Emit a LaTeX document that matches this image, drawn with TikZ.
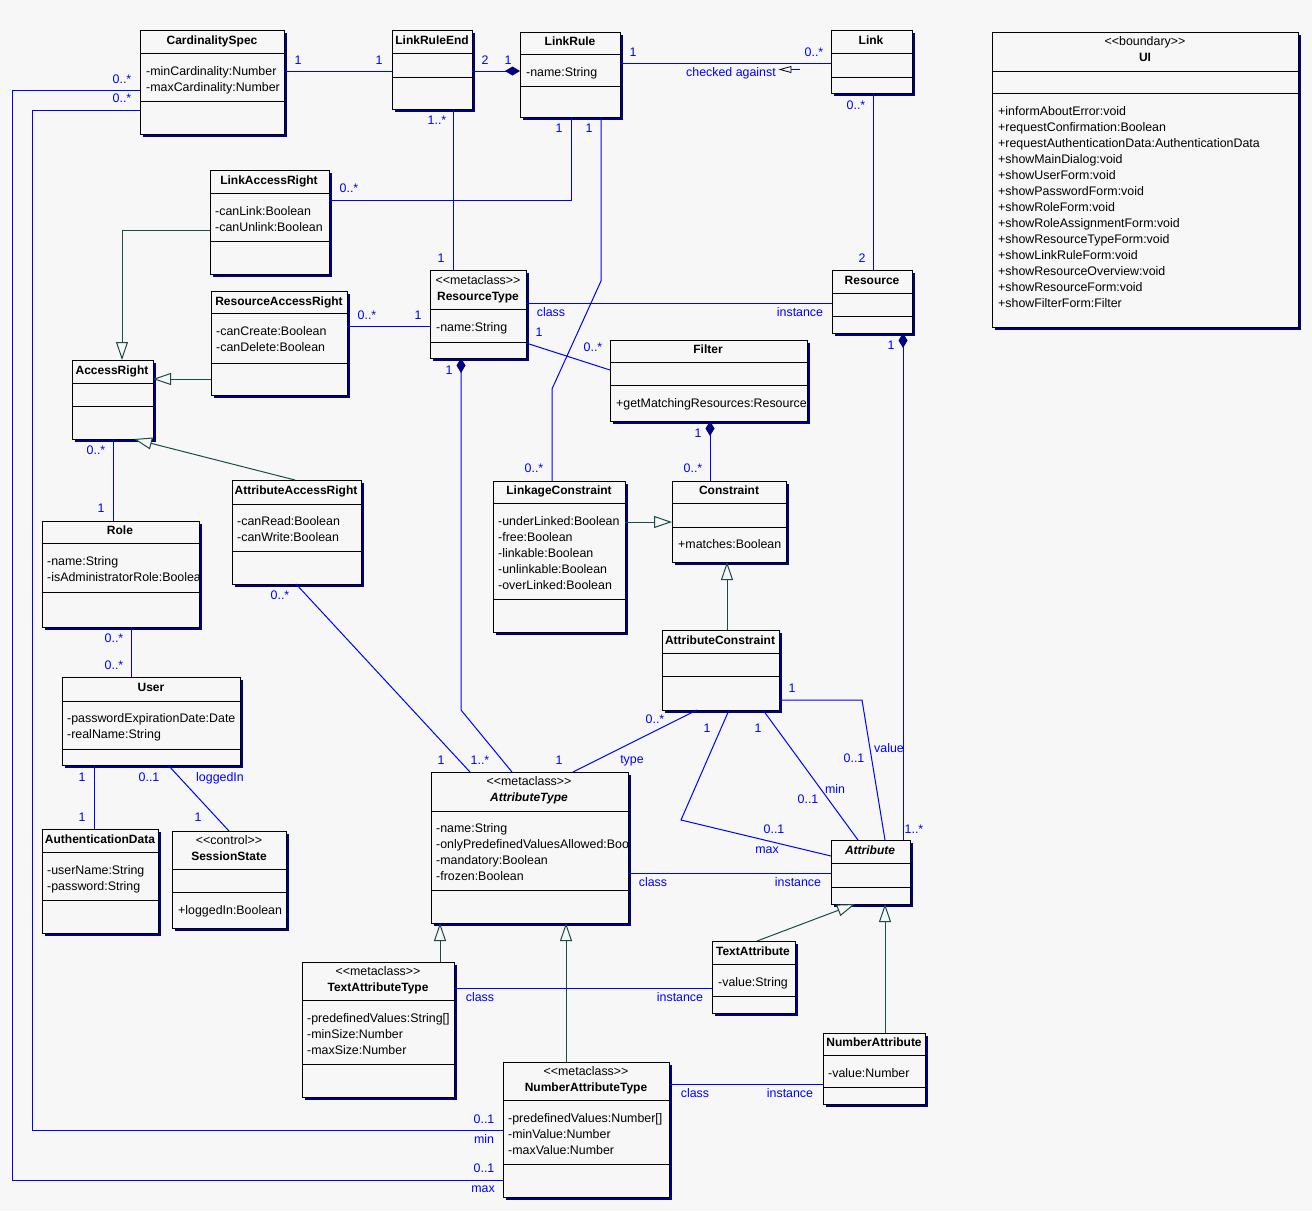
\documentclass[tikz,border=0pt]{standalone}
\usepackage{fontspec}
\setmainfont{Liberation Sans}
\usetikzlibrary{arrows.meta}
\definecolor{bgc}{HTML}{F7F7F7}
\definecolor{shc}{HTML}{000080}
\definecolor{bluec}{HTML}{0000FF}
\definecolor{genc}{HTML}{1A4A4A}
\definecolor{dmc}{HTML}{000080}
\newcommand\fsz{\fontsize{12}{14}\selectfont}
\newcommand\fszr{\fontsize{12.4}{14}\selectfont}
\newcommand\stt[1]{<\kern0pt<#1>\kern0pt>}
\newcounter{tnum}
\newcommand\cbox[7]{%
  \fill[shc] (#2+3,#3+3) rectangle (#4+3,#5+3);
  \node[clsbox, minimum width=#4-#2, minimum height=#5-#3, anchor=north west] (#1) at (#2,#3) {};
  \draw[black, line width=1pt] (#2,#6) -- (#4,#6) (#2,#7) -- (#4,#7);}
\newcommand\mkTitle[3]{\stepcounter{tnum}\node[ttl] (t\arabic{tnum}) at (#1,#2+4.3) {#3};}
\newcommand\mkItal[3]{\stepcounter{tnum}\node[itl] (t\arabic{tnum}) at (#1,#2+4.3) {#3};}
\newcommand\mkSt[3]{\stepcounter{tnum}\node[ster] (t\arabic{tnum}) at (#1,#2+4.3) {\stt{#3}};}
\newcommand\mkAt[3]{\stepcounter{tnum}\node[atr] (t\arabic{tnum}) at (#1,#2+4.3) {#3};}
\newcommand\mkLb[3]{\stepcounter{tnum}\node[lbl] (t\arabic{tnum}) at (#1,#2+4.3) {#3};}
\begin{document}
\begin{tikzpicture}[x=1pt,y=-1pt,
  clsbox/.style={draw=black, line width=1pt, fill=bgc, inner sep=0pt, outer sep=0pt},
  ttl/.style={font=\fsz\bfseries, anchor=base, inner sep=0pt},
  itl/.style={font=\fsz\bfseries\itshape, anchor=base, inner sep=0pt},
  ster/.style={font=\fszr, anchor=base, inner sep=0pt},
  atr/.style={font=\fszr, anchor=base west, inner sep=0pt},
  lbl/.style={font=\fszr, text=bluec, anchor=base, inner sep=0pt},
  assoc/.style={draw=bluec, line width=1pt},
  gen/.style={draw=genc, line width=1pt, -{Triangle[open, fill=bgc, length=18pt, width=12pt]}},
  compo/.style={{Diamond[length=15pt, width=9pt, fill=dmc, color=dmc]}-}
]
\fill[bgc] (0,0) rectangle (1312,1211);
\useasboundingbox (0,0) rectangle (1312,1211);

% ---------------- classes ----------------
\cbox{cs}{140}{30}{284}{134}{53}{101}
\mkTitle{212}{40}{CardinalitySpec}
\mkAt{146}{71}{-minCardinality:Number}
\mkAt{146}{87}{-maxCardinality:Number}

\cbox{lre}{392}{30}{472}{109}{53}{77}
\mkTitle{432}{40}{LinkRuleEnd}

\cbox{lr}{520}{32}{620}{117}{54}{86}
\mkTitle{570}{41}{LinkRule}
\mkAt{526}{72}{-name:String}

\cbox{lk}{831}{30}{912}{93}{53}{77}
\mkTitle{871}{40}{Link}

\cbox{ui}{992}{32}{1298}{327}{71}{93}
\mkSt{1145}{41}{boundary}
\mkTitle{1145}{57}{UI}
\foreach \s [count=\i from 0] in {+informAboutError:void,+requestConfirmation:Boolean,+requestAuthenticationData:AuthenticationData,+showMainDialog:void,+showUserForm:void,+showPasswordForm:void,+showRoleForm:void,+showRoleAssignmentForm:void,+showResourceTypeForm:void,+showLinkRuleForm:void,+showResourceOverview:void,+showResourceForm:void,+showFilterForm:Filter}
  {\node[atr] (uiop\i) at (998,111+16*\i+4.3) {\s};}

\cbox{lar}{210}{170}{329}{274}{193}{241}
\mkTitle{269}{180}{LinkAccessRight}
\mkAt{215}{211}{-canLink:Boolean}
\mkAt{215}{227}{-canUnlink:Boolean}

\cbox{rar}{211}{291}{347}{395}{313}{363}
\mkTitle{279}{301}{ResourceAccessRight}
\mkAt{216}{331}{-canCreate:Boolean}
\mkAt{216}{347}{-canDelete:Boolean}

\cbox{ar}{72}{360}{153}{439}{383}{406}
\mkTitle{112}{370}{AccessRight}

\cbox{role}{42}{521}{199}{627}{543}{592}
\mkTitle{120}{530}{Role}
\begin{scope}
\clip (42,521) rectangle (199,627);
\mkAt{47}{561}{-name:String}
\mkAt{47}{577}{-isAdministratorRole:Boolea}
\end{scope}

\cbox{aar}{232}{480}{361}{584}{504}{551}
\mkTitle{296}{490}{AttributeAccessRight}
\mkAt{237}{521}{-canRead:Boolean}
\mkAt{237}{537}{-canWrite:Boolean}

\cbox{usr}{62}{677}{240}{765}{701}{749}
\mkTitle{151}{687}{User}
\mkAt{67}{718}{-passwordExpirationDate:Date}
\mkAt{67}{734}{-realName:String}

\cbox{ad}{42}{829}{158}{933}{852}{900}
\mkTitle{100}{839}{AuthenticationData}
\mkAt{47}{870}{-userName:String}
\mkAt{47}{886}{-password:String}

\cbox{ss}{172}{831}{286}{928}{869}{892}
\mkSt{229}{840}{control}
\mkTitle{229}{856}{SessionState}
\mkAt{178}{910}{+loggedIn:Boolean}

\cbox{rt}{430}{270}{526}{358}{309}{342}
\mkSt{478}{280}{metaclass}
\mkTitle{478}{296}{ResourceType}
\mkAt{436}{327}{-name:String}

\cbox{res}{832}{270}{912}{333}{293}{316}
\mkTitle{872}{280}{Resource}

\cbox{flt}{610}{340}{807}{421}{362}{385}
\mkTitle{708}{349}{Filter}
\begin{scope}
\clip (610,340) rectangle (807,421);
\mkAt{616}{403}{+getMatchingResources:Resource}
\end{scope}

\cbox{lc}{493}{481}{625}{632}{503}{599}
\mkTitle{559}{490}{LinkageConstraint}
\mkAt{498}{521}{-underLinked:Boolean}
\mkAt{498}{537}{-free:Boolean}
\mkAt{498}{553}{-linkable:Boolean}
\mkAt{498}{569}{-unlinkable:Boolean}
\mkAt{498}{585}{-overLinked:Boolean}

\cbox{con}{672}{481}{786}{562}{503}{527}
\mkTitle{729}{490}{Constraint}
\mkAt{678}{544}{+matches:Boolean}

\cbox{ac}{662}{630}{779}{710}{653}{676}
\mkTitle{720}{640}{AttributeConstraint}

\cbox{att}{831}{840}{910}{904}{863}{887}
\mkItal{870}{850}{Attribute}

\cbox{at}{431}{772}{628}{923}{811}{890}
\mkSt{529}{781}{metaclass}
\mkItal{529}{797}{AttributeType}
\begin{scope}
\clip (431,772) rectangle (628,923);
\mkAt{436}{828}{-name:String}
\mkAt{436}{844}{-onlyPredefinedValuesAllowed:Boo}
\mkAt{436}{860}{-mandatory:Boolean}
\mkAt{436}{876}{-frozen:Boolean}
\end{scope}

\cbox{tat}{302}{962}{454}{1097}{1000}{1064}
\mkSt{378}{971}{metaclass}
\mkTitle{378}{987}{TextAttributeType}
\mkAt{307}{1018}{-predefinedValues:String[]}
\mkAt{307}{1034}{-minSize:Number}
\mkAt{307}{1050}{-maxSize:Number}

\cbox{nat}{503}{1062}{669}{1197}{1100}{1164}
\mkSt{586}{1071}{metaclass}
\mkTitle{586}{1087}{NumberAttributeType}
\mkAt{508}{1118}{-predefinedValues:Number[]}
\mkAt{508}{1134}{-minValue:Number}
\mkAt{508}{1150}{-maxValue:Number}

\cbox{ta}{712}{941}{795}{1013}{964}{996}
\mkTitle{753}{951}{TextAttribute}
\mkAt{718}{982}{-value:String}

\cbox{na}{823}{1033}{925}{1104}{1055}{1087}
\mkTitle{874}{1042}{NumberAttribute}
\mkAt{828}{1073}{-value:Number}

% ---------------- connectors ----------------
\draw[assoc] (cs.east |- 0,71) -- (lre.west |- 0,71);
\draw[assoc, -{Diamond[length=15pt, width=9pt, fill=dmc, color=dmc]}] (lre.east |- 0,71) -- (lr.west |- 0,71);
\draw[assoc] (lr.east |- 0,63) -- (lk.west |- 0,63);
\draw[bluec, line width=1pt] (791,69.5) -- (800,69.5);
\draw[black, line width=0.8pt, fill=bgc] (791,66.5) -- (780,69.5) -- (791,72.5) -- cycle;
\draw[assoc] (873,0 |- lk.south) -- (873,0 |- res.north);
\draw[assoc] (453,0 |- lre.south) -- (453,0 |- rt.north);
\draw[assoc] (571,0 |- lr.south) -- (571,200) -- (lar.east |- 0,200);
\draw[assoc] (601,0 |- lr.south) -- (601,281) -- (552,389) -- (552,0 |- lc.north);
\draw[assoc] (rt.east |- 0,303) -- (res.west |- 0,303);
\draw[assoc] (rar.east |- 0,326) -- (rt.west |- 0,326);
\draw[assoc] (rt.east |- 0,343) -- (flt.west |- 0,370);
\draw[assoc, compo] (461,0 |- rt.south) -- (461,710) -- (512,0 |- at.north);
\draw[assoc] (296,0 |- aar.south) -- (470,0 |- at.north);
\draw[assoc] (573,0 |- at.north) -- (697,0 |- ac.south);
\draw[assoc] (729,0 |- ac.south) -- (681,820) -- (att.west |- 0,856);
\draw[assoc] (763,0 |- ac.south) -- (858,0 |- att.north);
\draw[assoc] (ac.east |- 0,700) -- (862,700) -- (885,0 |- att.north);
\draw[assoc, compo] (903,0 |- res.south) -- (903,0 |- att.north);
\draw[assoc, compo] (710,0 |- flt.south) -- (710,0 |- con.north);
\draw[gen] (lc.east |- 0,522) -- (con.west |- 0,522);
\draw[gen] (727,0 |- ac.north) -- (727,0 |- con.south);
\draw[assoc] (at.east |- 0,873) -- (att.west |- 0,873);
\draw[gen] (440,0 |- tat.north) -- (440,0 |- at.south);
\draw[gen] (566,0 |- nat.north) -- (566,0 |- at.south);
\draw[assoc] (tat.east |- 0,988) -- (ta.west |- 0,988);
\draw[assoc] (nat.east |- 0,1084) -- (na.west |- 0,1084);
\draw[gen] (757,0 |- ta.north) -- (855,0 |- att.south);
\draw[gen] (885,0 |- na.north) -- (885,0 |- att.south);
\draw[gen] (lar.west |- 0,230) -- (122,230) -- (122,0 |- ar.north);
\draw[gen] (rar.west |- 0,379) -- (ar.east |- 0,379);
\draw[gen] (295,0 |- aar.north) -- (134,0 |- ar.south);
\draw[assoc] (113,0 |- ar.south) -- (113,0 |- role.north);
\draw[assoc] (131,0 |- role.south) -- (131,0 |- usr.north);
\draw[assoc] (94,0 |- usr.south) -- (94,0 |- ad.north);
\draw[assoc] (168,0 |- usr.south) -- (229,0 |- ss.north);
\draw[assoc] (cs.west |- 0,90) -- (12,90) -- (12,1180) -- (nat.west |- 0,1180);
\draw[assoc] (cs.west |- 0,110) -- (32,110) -- (32,1130) -- (nat.west |- 0,1130);

% ---------------- labels ----------------
\mkLb{298}{60}{1}
\mkLb{379}{60}{1}
\mkLb{485}{60}{2}
\mkLb{508}{60}{1}
\mkLb{633}{52}{1}
\mkLb{814}{52}{0..*}
\mkLb{731}{72}{checked against}
\mkLb{856}{105}{0..*}
\mkLb{862}{258}{2}
\mkLb{437}{120}{1..*}
\mkLb{559}{128}{1}
\mkLb{589}{128}{1}
\mkLb{349}{188}{0..*}
\mkLb{441}{258}{1}
\mkLb{551}{312}{class}
\mkLb{800}{312}{instance}
\mkLb{367}{315}{0..*}
\mkLb{418}{315}{1}
\mkLb{539}{332}{1}
\mkLb{593}{347}{0..*}
\mkLb{449}{370}{1}
\mkLb{891}{345}{1}
\mkLb{698}{433}{1}
\mkLb{693}{468}{0..*}
\mkLb{534}{468}{0..*}
\mkLb{792}{688}{1}
\mkLb{655}{719}{0..*}
\mkLb{707}{728}{1}
\mkLb{758}{728}{1}
\mkLb{889}{748}{value}
\mkLb{854}{758}{0..1}
\mkLb{632}{759}{type}
\mkLb{835}{789}{min}
\mkLb{808}{799}{0..1}
\mkLb{914}{829}{1..*}
\mkLb{774}{829}{0..1}
\mkLb{767}{849}{max}
\mkLb{653}{882}{class}
\mkLb{798}{882}{instance}
\mkLb{82}{777}{1}
\mkLb{149}{777}{0..1}
\mkLb{220}{777}{loggedIn}
\mkLb{82}{817}{1}
\mkLb{198}{817}{1}
\mkLb{96}{450}{0..*}
\mkLb{101}{508}{1}
\mkLb{114}{638}{0..*}
\mkLb{114}{665}{0..*}
\mkLb{280}{595}{0..*}
\mkLb{441}{760}{1}
\mkLb{480}{760}{1..*}
\mkLb{559}{760}{1}
\mkLb{480}{997}{class}
\mkLb{680}{997}{instance}
\mkLb{484}{1119}{0..1}
\mkLb{484}{1139}{min}
\mkLb{484}{1168}{0..1}
\mkLb{483}{1188}{max}
\mkLb{695}{1093}{class}
\mkLb{790}{1093}{instance}
\mkLb{122}{79}{0..*}
\mkLb{122}{98}{0..*}
\end{tikzpicture}
\end{document}
